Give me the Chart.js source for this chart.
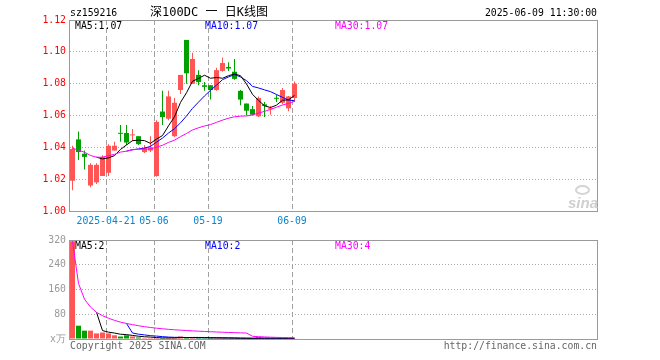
<!DOCTYPE html>
<html><head><meta charset="utf-8">
<script src="https://cdn.jsdelivr.net/npm/chart.js@4/dist/chart.umd.min.js"></script>
<style>
html,body{margin:0;padding:0;background:#fff;}
#wrap{position:relative;width:660px;height:360px;overflow:hidden;background:#fff;}
canvas{position:absolute;left:0;top:0;}
.t{position:absolute;font-family:'DejaVu Sans Mono',monospace;font-size:9.8px;line-height:10px;white-space:pre;}
</style></head><body>
<div id="wrap">
<canvas id="pc" width="660" height="360"></canvas>
<canvas id="vc" width="660" height="360"></canvas>
<div class="t" style="left:70px;top:8px;color:#000;">sz159216</div>
<div class="t" style="left:109px;top:6px;width:200px;text-align:center;font-size:12px;line-height:12px;font-family:'DejaVu Sans Mono','Noto Sans CJK SC',monospace;color:#000;">深100DC 一 日K线图</div>
<div class="t" style="right:63px;top:8px;color:#000;">2025-06-09 11:30:00</div>
<div class="t" style="left:75px;top:21px;color:#000;">MA5:1.07</div>
<div class="t" style="left:205px;top:21px;color:#0000ff;">MA10:1.07</div>
<div class="t" style="left:335px;top:21px;color:#ff00ff;">MA30:1.07</div>
<div class="t" style="left:75px;top:241px;color:#000;">MA5:2</div>
<div class="t" style="left:205px;top:241px;color:#0000ff;">MA10:2</div>
<div class="t" style="left:335px;top:241px;color:#ff00ff;">MA30:4</div>
<div class="t" style="left:70px;top:341px;color:#666;">Copyright 2025 SINA.COM</div>
<div class="t" style="right:63px;top:341px;color:#666;">http://finance.sina.com.cn</div>
<div style="position:absolute;left:575px;top:185px;width:11px;height:6px;border:2px solid #d4d4d4;border-radius:50%;"></div>
<div class="t" style="left:568px;top:195px;font-family:'Liberation Sans',sans-serif;font-weight:bold;font-style:italic;font-size:15px;line-height:15px;color:#cfcfcf;">sina</div>
</div>
<script>
const dates = ['04-11','04-14','04-15','04-16','04-17','04-18','04-21','04-22','04-23','04-24','04-25','04-28','04-29','04-30',
  '05-06','05-07','05-08','05-09','05-12','05-13','05-14','05-15','05-16','05-19','05-20','05-21','05-22','05-23',
  '05-26','05-27','05-28','05-29','05-30','06-03','06-04','06-05','06-06','06-09'];
const openP  = [1.019,1.045,1.036,1.016,1.018,1.022,1.024,1.038,1.049,1.049,1.0475,1.047,1.037,1.038,1.022,1.0625,1.058,1.047,1.076,1.1075,
  1.080,1.0855,1.079,1.079,1.076,1.088,1.0905,1.0875,1.0755,1.0675,1.064,1.0595,1.067,1.064,1.071,1.068,1.0645,1.071];
const highP  = [1.041,1.050,1.038,1.030,1.030,1.035,1.042,1.0435,1.054,1.054,1.0515,1.047,1.0415,1.047,1.057,1.0755,1.0755,1.071,1.0855,1.1075,
  1.0995,1.0885,1.081,1.079,1.090,1.0965,1.0935,1.0955,1.076,1.0675,1.066,1.072,1.0685,1.066,1.073,1.0773,1.0722,1.0813];
const lowP   = [1.013,1.032,1.026,1.015,1.017,1.022,1.022,1.038,1.0435,1.0415,1.044,1.0415,1.0365,1.037,1.0215,1.054,1.057,1.0465,1.0735,1.080,
  1.080,1.079,1.0755,1.070,1.0755,1.0875,1.088,1.0825,1.0665,1.060,1.060,1.059,1.059,1.0605,1.0685,1.067,1.0627,1.0685];
const closeP = [1.039,1.037,1.034,1.029,1.029,1.034,1.041,1.041,1.0485,1.043,1.048,1.042,1.0395,1.040,1.056,1.059,1.072,1.068,1.0855,1.0865,
  1.0955,1.081,1.078,1.076,1.0885,1.093,1.0895,1.083,1.070,1.063,1.0605,1.071,1.066,1.0645,1.0705,1.076,1.072,1.080];
const ma5  = [null,null,null,null,1.0338,1.0327,1.0334,1.0348,1.0387,1.0415,1.0442,1.0445,1.0442,1.0425,1.0452,1.0474,1.0535,1.0592,1.0682,1.0743,
  1.0815,1.0833,1.0853,1.0834,1.0839,1.0834,1.0850,1.0861,1.0850,1.0798,1.0733,1.0695,1.0661,1.0650,1.0665,1.0696,1.0698,1.0726];
const ma10 = [null,null,null,null,null,null,null,null,null,1.0376,1.0385,1.0390,1.0395,1.0406,1.0433,1.0458,1.0490,1.0517,1.0554,1.0597,
  1.0645,1.0684,1.0723,1.0758,1.0791,1.0825,1.0842,1.0857,1.0842,1.0819,1.0783,1.0773,1.0761,1.0750,1.0732,1.0714,1.0697,1.0693];
const ma30 = [1.0394,1.0383,1.0369,1.0349,1.0338,1.0338,1.0348,1.0356,1.0370,1.0376,1.0385,1.0388,1.0389,1.0390,1.0401,1.0413,1.0431,1.0445,1.0467,1.0487,
  1.0509,1.0523,1.0534,1.0543,1.0557,1.0571,1.0583,1.0592,1.0596,1.0597,1.0604,1.0615,1.0626,1.0638,1.0652,1.0666,1.0676,1.0689];
const volume  = [316,43,27,27,18,21,18,12,8,12,8,5,3,3,4,3,4,4,8,4,5,4,3,3,3,3,2,2,2,2,2,5,2,2,2,2,2,2];
const volMa5  = [null,null,null,null,86.2,27.2,22.2,19.2,15.4,14.2,11.6,9.0,7.2,6.2,4.6,3.6,3.4,3.6,4.6,4.6,
  5.0,5.0,4.8,3.8,3.6,3.2,2.8,2.6,2.4,2.2,2.0,2.6,2.6,2.6,2.6,2.6,2.0,2.0];
const volMa10 = [null,null,null,null,null,null,null,null,null,50.2,19.4,15.6,13.2,10.8,9.4,7.6,6.2,5.4,5.4,4.6,
  4.3,4.2,4.2,4.2,4.1,4.1,3.9,3.7,3.1,2.9,2.6,2.7,2.6,2.5,2.4,2.3,2.3,2.3];
const volMa30 = [316,179.5,128.7,103.3,86.2,75.3,67.1,60.3,54.4,50.2,46.4,42.9,39.8,37.2,35.0,33.0,31.3,29.8,28.6,27.4,
  26.3,25.3,24.3,23.5,22.6,21.9,21.1,20.5,19.8,19.2,8.8,7.5,6.7,5.8,5.3,4.7,4.1,3.8];
const priceTicks = [1.00,1.02,1.04,1.06,1.08,1.10,1.12];
const volTicks = [0,80,160,240,320];
const tickIdx = [6,14,23,37];
const tickLabels = ['2025-04-21','05-06','05-19','06-09'];

const SLOTS = 527/6;      // number of day slots across the plot width
const OFF = 5/12;         // candle centre inside its slot
const X = i => i + OFF;
const RED = '#ff5555', GREEN = '#00a000';
const colors = closeP.map((c,i) => c >= openP[i] ? RED : GREEN);
const FONT = {family:"'DejaVu Sans Mono', monospace", size:9.8};

const frame = {
  id:'frame',
  afterDraw(chart){
    const a = chart.chartArea, ctx = chart.ctx;
    ctx.save();
    ctx.strokeStyle = '#9a9a9a'; ctx.lineWidth = 1; ctx.setLineDash([]);
    ctx.strokeRect(a.left - 0.5, a.top + 0.5, a.right - a.left + 1, a.bottom - a.top);
    ctx.restore();
  }
};

function lineDs(arr, color, order){
  return {type:'line', data: arr.map((v,i)=>({x:X(i), y:v})), borderColor:color, borderWidth:1,
    pointRadius:0, tension:0, fill:false, spanGaps:false, order};
}
function xScale(show){
  return {type:'linear', min:0, max:SLOTS, offset:false,
    afterBuildTicks: s => { s.ticks = tickIdx.map(v=>({value:v})); },
    afterFit: s => { s.height = show ? 20 : 0; },
    ticks:{display:show, autoSkip:false, maxRotation:0, padding:5, color:'#0a84d0', font:FONT,
      callback:(v, idx) => tickLabels[idx]},
    grid:{offset:false, color:'#a0a0a0', drawTicks:false, lineWidth:1},
    border:{display:false, dash:[5,3]}};
}
function yScale(min, max, ticksArr, color, fmt){
  return {min, max, beginAtZero:false,
    afterBuildTicks: s => { s.ticks = ticksArr.map(v=>({value:v})); },
    afterFit: s => { s.width = 70; },
    ticks:{padding:4, color, font:FONT, callback: fmt},
    grid:{color:'#aaaaaa', drawTicks:false, lineWidth:1},
    border:{display:false, dash:[1,2]}};
}
const common = {responsive:false, animation:false, devicePixelRatio:1,
  plugins:{legend:{display:false}, tooltip:{enabled:false}, title:{display:false}}};

new Chart(document.getElementById('pc'), {
  type:'bar',
  data:{datasets:[
    lineDs(ma30, '#ff00ff', 0),
    lineDs(ma10, '#0000ff', 2),
    lineDs(ma5, '#000000', 1),
    {type:'bar', data: dates.map((d,i)=>({x:X(i), y:[openP[i], closeP[i]]})), backgroundColor:colors,
      barThickness:5, minBarLength:1, grouped:false, borderWidth:0, inflateAmount:0, order:3},
    {type:'bar', data: dates.map((d,i)=>({x:X(i), y:[lowP[i], highP[i]]})), backgroundColor:colors,
      barThickness:1, minBarLength:1, grouped:false, borderWidth:0, inflateAmount:0, order:4}
  ]},
  options:Object.assign({}, common, {
    layout:{padding:{left:0, top:20, right:63, bottom:129}},
    scales:{x:xScale(true), y:yScale(1.00, 1.12, priceTicks, '#ff0000', v => Number(v).toFixed(2))}
  }),
  plugins:[frame]
});

new Chart(document.getElementById('vc'), {
  type:'bar',
  data:{datasets:[
    lineDs(volMa30, '#ff00ff', 0),
    lineDs(volMa10, '#0000ff', 2),
    lineDs(volMa5, '#000000', 1),
    {type:'bar', data: volume.map((v,i)=>({x:X(i), y:v})), backgroundColor:colors,
      barThickness:5, grouped:false, borderWidth:0, inflateAmount:0, order:3}
  ]},
  options:Object.assign({}, common, {
    layout:{padding:{left:0, top:240, right:63, bottom:21}},
    scales:{x:xScale(false), y:yScale(0, 320, volTicks, '#999999', v => v === 0 ? 'x万' : String(v))}
  }),
  plugins:[frame]
});
</script>
</body></html>
